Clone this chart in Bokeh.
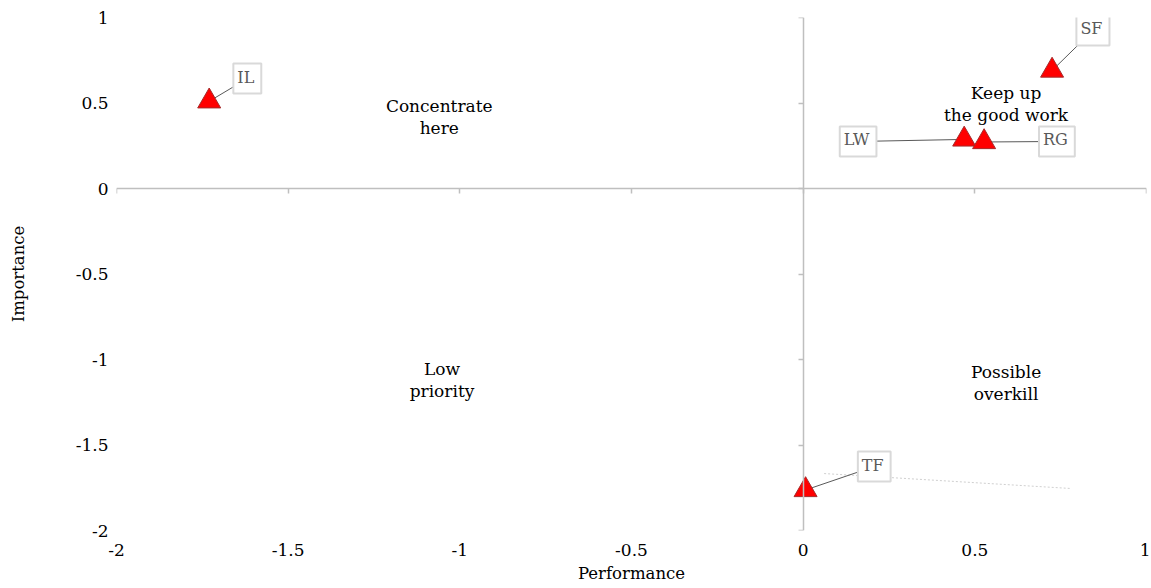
from bokeh.plotting import figure
from bokeh.models import (Range1d, FixedTicker, LinearAxis, Label, ColumnDataSource,
                          CustomJSTickFormatter)
from bokeh.core.properties import value
from bokeh.embed import file_html
from bokeh.resources import INLINE

# ---- data ----
names = ["IL", "SF", "LW", "RG", "TF"]
performance = [-1.73, 0.725, 0.469, 0.527, 0.007]
importance = [0.51, 0.69, 0.287, 0.272, -1.763]

# callout label anchor positions (data units)
label_x = [-1.619, 0.844, 0.160, 0.739, 0.207]
label_y = [0.643, 0.924, 0.275, 0.275, -1.626]

quadrant_text = ["Concentrate\nhere", "Keep up\nthe good work", "Low\npriority", "Possible\noverkill"]
quadrant_x = [-1.06, 0.591, -1.052, 0.591]
quadrant_y = [0.421, 0.497, -1.117, -1.14]

dash_x = [0.061, 0.777]
dash_y = [-1.667, -1.754]

x_ticks = [-2, -1.5, -1, -0.5, 0, 0.5, 1]
x_tick_labels = ["-2", "-1.5", "-1", "-0.5", "0", "0.5", "1"]
y_ticks = [-2, -1.5, -1, -0.5, 0, 0.5, 1]
y_tick_labels = ["-2", "-1.5", "-1", "-0.5", "0", "0.5", "1"]

FONT = "DejaVu Serif"
AXIS_GRAY = "#BFBFBF"

p = figure(width=1150, height=587, x_range=Range1d(-2, 1), y_range=Range1d(-2, 1),
           output_backend="svg", toolbar_location=None,
           min_border_left=116, min_border_right=4, min_border_top=17, min_border_bottom=57)
p.outline_line_color = None
p.xgrid.visible = False
p.ygrid.visible = False
p.background_fill_color = "white"

# edge axes: only labels
for ax, ticks, labels in ((p.xaxis[0], x_ticks, x_tick_labels), (p.yaxis[0], y_ticks, y_tick_labels)):
    ax.ticker = FixedTicker(ticks=ticks)
    ax.major_label_overrides = {t: l for t, l in zip(ticks, labels)}
    ax.axis_line_color = None
    ax.major_tick_line_color = None
    ax.major_tick_out = 0
    ax.major_tick_in = 0
    ax.minor_tick_line_color = None
    ax.minor_tick_out = 0
    ax.major_label_text_font = FONT
    ax.major_label_text_font_size = "17px"
    ax.major_label_text_color = "#000000"
    ax.axis_label_text_font = FONT
    ax.axis_label_text_font_size = "16.5px"
    ax.axis_label_text_font_style = "normal"
    ax.axis_label_text_color = "#000000"

p.xaxis[0].axis_label = "Performance"
p.xaxis[0].major_label_standoff = 13
p.xaxis[0].axis_label_standoff = 5
p.yaxis[0].axis_label = "Importance"
p.yaxis[0].major_label_standoff = 8
p.yaxis[0].axis_label_standoff = 45

# zero-crossing axes
blank = CustomJSTickFormatter(code="return ''")
x0 = LinearAxis(fixed_location=0, ticker=FixedTicker(ticks=x_ticks), formatter=blank,
                axis_line_color=AXIS_GRAY, axis_line_width=1.5,
                major_tick_line_color=AXIS_GRAY, major_tick_line_width=1.5,
                major_tick_out=5, major_tick_in=0, minor_tick_line_color=None)
y0 = LinearAxis(fixed_location=0, ticker=FixedTicker(ticks=y_ticks), formatter=blank,
                axis_line_color=AXIS_GRAY, axis_line_width=1.5,
                major_tick_line_color=AXIS_GRAY, major_tick_line_width=1.5,
                major_tick_out=5, major_tick_in=0, minor_tick_line_color=None)
p.add_layout(x0, "below")
p.add_layout(y0, "left")

# dotted stray line
p.line(dash_x, dash_y, line_color="#D0D0D0", line_width=1, line_dash="2 2")

# leader lines
p.segment(x0=performance, y0=importance, x1=label_x, y1=label_y,
          line_color="#595959", line_width=1)

# markers
src = ColumnDataSource(dict(x=performance, y=importance, name=names))
p.scatter("x", "y", source=src, marker="triangle", size=23,
          fill_color="#FF0000", line_color="#A52A2A", line_width=1)

# quadrant texts
p.text(x=quadrant_x, y=quadrant_y, text=quadrant_text, text_align="center",
       text_baseline="middle", text_font=value(FONT), text_font_size="17px",
       text_color="#000000", text_line_height=1.1)

# callout labels
for n, lx, ly in zip(names, label_x, label_y):
    p.add_layout(Label(x=lx, y=ly, text=n, text_align="center", text_baseline="middle",
                       text_font=FONT, text_font_size="16px", text_color="#595959",
                       background_fill_color="white", border_line_color="#D9D9D9",
                       border_line_width=2, padding=(4, 7, 4, 7)))

open("out.html", "w").write(file_html(p, INLINE))
